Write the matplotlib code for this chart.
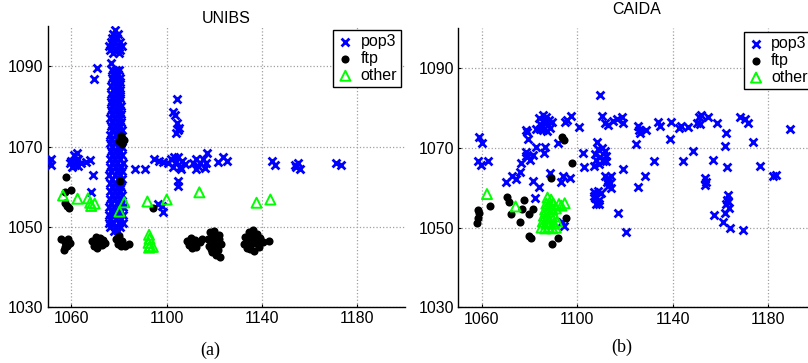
import numpy as np
import matplotlib
matplotlib.use("Agg")
import matplotlib.pyplot as plt

plt.rcParams['font.family'] = ['Liberation Sans', 'DejaVu Sans']

# ---------- data: UNIBS ----------
# dense pop3 column, (y, [x ...]) rows
unibs_pop3_column = [
    (1049, [1077.8, 1079.6]),
    (1050, [1076.4, 1078.3, 1080.5]),
    (1051, [1075.8, 1077.6, 1079.9, 1081.5]),
    (1052, [1076.2, 1078.8, 1081.0]),
    (1053, [1075.6, 1077.4, 1079.5, 1081.8]),
    (1054, [1076.5, 1078.6, 1080.7]),
    (1055, [1075.9, 1077.9, 1080.1, 1081.6]),
    (1056, [1076.8, 1079.0, 1081.2]),
    (1057, [1076.1, 1078.2, 1080.4]),
    (1058, [1077.0, 1079.3, 1081.3]),
    (1059, [1076.3, 1078.5, 1080.6]),
    (1060, [1076.9, 1079.1, 1081.0]),
    (1061, [1076.2, 1078.4, 1080.5]),
    (1062, [1077.1, 1079.4, 1081.4]),
    (1063, [1076.0, 1078.2, 1080.3]),
    (1064, [1076.8, 1079.0, 1081.1]),
    (1065, [1076.4, 1078.6, 1080.8]),
    (1066, [1077.0, 1079.3, 1081.5]),
    (1067, [1076.2, 1078.3, 1080.4]),
    (1068, [1076.9, 1079.1, 1081.2]),
    (1069, [1076.5, 1078.7, 1080.6]),
    (1070, [1077.2, 1079.4, 1081.3]),
    (1071, [1076.3, 1078.5, 1080.5]),
    (1072, [1076.8, 1079.0, 1081.0]),
    (1073, [1076.4, 1078.6, 1080.7]),
    (1074, [1077.1, 1079.2, 1081.2]),
    (1075, [1076.5, 1078.7, 1080.6]),
    (1076, [1076.9, 1079.0, 1080.9]),
    (1077, [1076.3, 1078.4, 1080.4]),
    (1078, [1077.0, 1079.1, 1080.8]),
    (1079, [1076.6, 1078.6, 1080.3]),
    (1080, [1077.2, 1079.3, 1080.7]),
    (1081, [1076.5, 1078.5, 1080.2]),
    (1082, [1077.0, 1079.0, 1080.6]),
    (1083, [1076.8, 1078.7, 1080.3]),
    (1084, [1077.3, 1079.2, 1080.5]),
    (1085, [1076.7, 1078.8, 1080.1]),
    (1086, [1077.4, 1079.4, 1080.6]),
    (1087, [1076.9, 1078.9, 1080.3]),
    (1088, [1077.5, 1079.5]),
    (1089, [1077.0, 1078.9, 1080.2]),
    (1090.7, [1076.5]),
    (1093.2, [1077.5, 1079.8]),
    (1094, [1076.3, 1078.4, 1080.5]),
    (1095, [1075.9, 1077.6, 1079.6, 1081.2]),
    (1096, [1076.5, 1078.5, 1080.6]),
    (1097, [1077.0, 1079.2]),
    (1098, [1077.6, 1079.6]),
    (1099, [1078.3]),
]

unibs_pop3 = [
    (1050.8, 1066.3), (1051.5, 1065.3), (1051.3, 1066.8),
    (1060.0, 1066.5), (1061.2, 1067.8), (1062.3, 1068.4), (1063.0, 1067.0),
    (1061.5, 1065.5), (1060.3, 1065.0), (1062.8, 1065.2), (1064.0, 1066.0),
    (1059.5, 1065.8), (1062.0, 1066.5),
    (1066.3, 1066.2), (1067.7, 1066.6), (1068.9, 1062.9), (1068.4, 1058.7),
    (1069.3, 1086.9), (1070.6, 1089.6),
    (1086.6, 1064.4), (1091.1, 1064.4), (1094.6, 1067.0), (1096.8, 1066.3),
    (1098.6, 1066.1),
    (1100.5, 1065.8), (1101.8, 1066.8), (1102.5, 1064.9), (1103.8, 1066.2),
    (1104.8, 1067.3), (1105.5, 1065.0), (1106.5, 1066.4), (1107.6, 1065.6),
    (1103.0, 1067.5), (1105.8, 1064.3),
    (1111.0, 1065.8), (1112.2, 1066.8), (1113.3, 1065.1), (1114.0, 1066.0),
    (1115.4, 1066.8), (1116.1, 1064.7), (1117.0, 1068.4), (1112.5, 1064.3),
    (1116.3, 1065.9),
    (1102.8, 1078.6), (1103.3, 1077.9), (1104.5, 1081.9), (1104.2, 1075.9),
    (1105.0, 1074.6), (1103.9, 1073.4), (1104.7, 1074.0),
    (1104.6, 1061.4), (1104.6, 1060.1),
    (1096.5, 1055.6), (1098.0, 1055.1), (1098.6, 1053.7),
    (1121.6, 1066.1), (1123.5, 1067.4), (1125.1, 1066.3),
    (1144.0, 1066.3), (1145.4, 1065.5),
    (1153.7, 1065.5), (1155.1, 1065.9), (1155.8, 1064.3), (1154.3, 1065.0),
    (1170.9, 1065.9), (1173.3, 1065.4),
]

unibs_ftp = [
    (1057.8, 1062.4), (1060.0, 1059.1), (1057.5, 1058.7), (1057.5, 1056.0),
    (1058.2, 1055.3), (1058.9, 1054.7),
    (1080.5, 1061.4), (1080.8, 1072.6), (1081.9, 1071.7), (1081.2, 1070.7),
    (1080.2, 1071.5), (1094.4, 1054.6),
    (1055.5, 1047.0), (1057.2, 1046.3), (1058.8, 1047.0), (1059.6, 1046.0),
    (1058.3, 1045.2), (1056.8, 1044.3), (1057.5, 1045.0),
    (1068.8, 1046.5), (1070.2, 1047.4), (1071.5, 1046.3), (1072.8, 1045.5),
    (1074.2, 1046.0), (1070.8, 1044.6), (1069.5, 1045.2), (1072.0, 1047.2),
    (1071.2, 1045.6), (1073.4, 1046.8),
    (1078.8, 1047.0), (1080.2, 1047.8), (1081.3, 1046.5), (1079.6, 1045.6),
    (1082.5, 1045.3), (1084.2, 1045.8), (1080.8, 1045.2), (1080.0, 1046.6),
    (1108.6, 1046.5), (1110.0, 1047.3), (1111.3, 1046.0), (1112.5, 1045.0),
    (1113.8, 1046.3), (1110.8, 1044.6), (1109.5, 1045.5), (1114.8, 1047.0),
    (1110.4, 1046.0), (1112.0, 1046.8),
    (1118.0, 1048.6), (1120.0, 1048.9), (1121.8, 1048.0), (1117.3, 1047.0),
    (1119.2, 1047.2), (1121.3, 1046.5), (1122.6, 1045.8), (1117.8, 1045.3),
    (1119.8, 1045.0), (1121.5, 1044.3), (1118.8, 1043.8), (1120.6, 1043.0),
    (1122.3, 1042.6), (1120.0, 1046.2), (1118.5, 1044.5), (1120.4, 1047.6),
    (1122.0, 1047.0), (1119.0, 1048.0), (1120.8, 1044.8),
    (1133.0, 1047.5), (1134.5, 1048.8), (1136.2, 1049.2), (1137.8, 1048.2),
    (1139.3, 1047.2), (1140.5, 1046.2), (1132.6, 1045.8), (1134.2, 1046.5),
    (1136.0, 1047.0), (1137.5, 1046.0), (1135.0, 1044.5), (1136.8, 1044.0),
    (1138.8, 1045.0), (1133.8, 1044.8), (1142.8, 1046.4), (1135.6, 1048.0),
    (1137.0, 1047.4), (1138.6, 1046.6), (1135.4, 1045.6),
]

unibs_other = [
    (1056.5, 1057.8), (1062.6, 1057.0), (1067.0, 1057.1), (1067.9, 1056.0),
    (1069.8, 1055.8), (1068.3, 1055.2),
    (1082.2, 1056.1), (1080.2, 1053.8),
    (1091.9, 1056.3), (1100.0, 1056.8), (1113.7, 1058.6), (1137.7, 1056.0),
    (1143.5, 1056.8),
    (1092.6, 1048.0), (1092.8, 1047.0), (1092.4, 1046.0), (1093.0, 1045.2),
    (1094.2, 1045.0), (1092.6, 1044.8),
]

# ---------- data: CAIDA ----------
caida_pop3 = [
    (1058.6, 1072.6), (1060.0, 1071.1), (1058.3, 1066.7), (1059.4, 1065.8),
    (1062.5, 1066.8),
    (1070.2, 1061.5), (1072.6, 1062.8), (1074.4, 1062.2), (1075.8, 1064.0),
    (1076.5, 1066.3), (1078.3, 1069.0), (1079.0, 1067.8), (1080.0, 1066.9),
    (1078.5, 1068.0), (1079.3, 1072.1), (1078.6, 1074.4), (1079.0, 1074.0),
    (1082.5, 1070.3), (1081.4, 1068.2), (1082.8, 1074.8),
    (1084.0, 1077.5), (1085.5, 1078.2), (1087.0, 1077.8), (1088.3, 1077.0),
    (1084.5, 1076.0), (1086.0, 1076.5), (1087.5, 1075.8), (1088.6, 1075.0),
    (1084.2, 1074.8), (1085.8, 1074.5), (1087.2, 1074.2), (1086.5, 1077.0),
    (1085.0, 1075.3), (1089.2, 1076.5),
    (1086.6, 1070.3), (1085.9, 1068.6),
    (1081.4, 1061.7), (1083.9, 1060.1), (1082.1, 1057.3),
    (1088.4, 1063.6), (1091.9, 1071.3), (1093.0, 1061.3), (1094.0, 1062.8),
    (1097.1, 1062.3), (1095.0, 1076.5), (1095.5, 1077.0), (1097.5, 1078.0),
    (1094.4, 1050.3), (1093.7, 1051.5),
    (1100.7, 1075.1), (1102.4, 1068.8), (1102.8, 1065.1),
    (1107.5, 1068.5), (1108.8, 1069.6), (1110.2, 1070.0), (1111.5, 1069.2),
    (1112.2, 1068.0), (1108.0, 1067.0), (1109.5, 1067.8), (1110.8, 1066.6),
    (1112.0, 1066.8), (1109.2, 1066.0), (1108.4, 1071.5), (1107.2, 1065.5),
    (1111.8, 1063.0), (1113.0, 1062.5), (1114.2, 1063.0), (1112.3, 1061.5),
    (1113.6, 1061.2), (1112.8, 1060.3), (1114.0, 1059.8),
    (1107.0, 1058.8), (1108.5, 1059.2), (1109.8, 1058.6), (1107.5, 1057.5),
    (1108.9, 1057.0), (1108.0, 1056.0), (1109.3, 1055.8), (1106.8, 1058.0),
    (1109.4, 1083.2),
    (1110.3, 1078.0), (1111.5, 1076.3), (1112.9, 1075.7), (1115.0, 1076.8),
    (1116.6, 1077.1), (1118.9, 1077.8), (1119.2, 1076.3),
    (1117.0, 1053.6), (1120.6, 1048.8), (1119.2, 1064.8),
    (1124.8, 1070.9), (1125.5, 1075.4), (1125.8, 1074.5), (1126.2, 1073.6),
    (1129.0, 1074.4), (1128.5, 1063.0), (1125.5, 1060.2),
    (1132.0, 1066.7), (1133.8, 1076.5), (1134.8, 1075.5), (1138.7, 1072.3),
    (1139.4, 1076.5), (1142.7, 1075.0), (1143.4, 1075.5), (1144.3, 1066.6),
    (1146.4, 1075.3), (1148.5, 1069.2), (1150.3, 1076.3), (1151.0, 1077.8),
    (1151.3, 1076.0), (1152.0, 1078.2), (1154.8, 1077.8),
    (1153.7, 1062.3), (1153.4, 1060.7), (1154.0, 1061.5),
    (1156.9, 1066.9), (1157.2, 1053.2), (1158.7, 1076.3),
    (1162.2, 1073.8), (1161.8, 1070.4), (1162.8, 1065.1),
    (1163.2, 1058.2), (1162.9, 1057.0), (1162.5, 1055.8), (1163.6, 1054.8),
    (1161.8, 1053.6), (1161.1, 1051.5), (1163.9, 1049.8), (1163.4, 1056.5),
    (1168.4, 1077.6), (1170.2, 1077.2), (1171.4, 1076.3), (1173.8, 1071.5),
    (1176.8, 1065.5), (1169.5, 1049.4),
    (1182.1, 1063.0), (1183.5, 1063.2), (1189.4, 1074.8),
]

caida_ftp = [
    (1058.3, 1054.4), (1058.7, 1053.6), (1058.3, 1052.3), (1058.0, 1051.1),
    (1063.2, 1055.4),
    (1070.5, 1057.6), (1071.3, 1056.3), (1072.0, 1053.3), (1076.1, 1051.3),
    (1077.5, 1056.8), (1077.0, 1054.6), (1079.6, 1053.3), (1081.4, 1054.7),
    (1079.6, 1048.0), (1080.7, 1047.3),
    (1089.1, 1062.3), (1089.4, 1045.8), (1091.9, 1047.3), (1095.4, 1052.3),
    (1093.6, 1072.6), (1094.3, 1071.9), (1097.9, 1066.1),
]

caida_other = [
    (1062.1, 1058.4), (1074.1, 1055.3),
    (1087.5, 1057.5), (1089.0, 1057.0), (1087.0, 1056.0), (1088.5, 1055.5),
    (1090.0, 1056.0), (1086.5, 1054.5), (1088.0, 1054.0), (1089.5, 1054.5),
    (1091.0, 1054.8), (1086.0, 1053.0), (1087.5, 1052.5), (1089.0, 1053.0),
    (1090.5, 1052.8), (1085.5, 1051.5), (1087.0, 1051.0), (1088.5, 1051.5),
    (1090.0, 1051.0), (1091.5, 1051.5), (1085.0, 1050.0), (1086.5, 1049.8),
    (1088.0, 1050.2), (1089.5, 1049.8), (1091.0, 1050.0),
    (1092.3, 1055.9), (1094.7, 1056.1), (1093.3, 1055.5),
]

x_ticks = [1060, 1100, 1140, 1180]
y_ticks = [1030, 1050, 1070, 1090]
series_names = ['pop3', 'ftp', 'other']


def expand_rows(rows):
    return [(x, y) for y, xs in rows for x in xs]


def draw_panel(ax, pop3, ftp, other, title, title_pad):
    p = np.array(pop3)
    f = np.array(ftp)
    o = np.array(other)
    ax.scatter(p[:, 0], p[:, 1], marker='x', s=32, c='#0000ff',
               linewidths=2.0, label=series_names[0], zorder=3)
    ax.scatter(f[:, 0], f[:, 1], marker='o', s=34, c='k',
               linewidths=0, label=series_names[1], zorder=4)
    ax.scatter(o[:, 0], o[:, 1], marker='^', s=52, facecolors='none',
               edgecolors='#00ff00', linewidths=1.4,
               label=series_names[2], zorder=5)

    ax.set_xlim(1050, 1200)
    ax.set_ylim(1030, 1100)
    ax.set_xticks(x_ticks)
    ax.set_yticks(y_ticks)
    ax.tick_params(direction='in', length=2, labelsize=11.5, pad=3)
    ax.grid(True, linestyle=':', color='#a0a0a0', linewidth=0.9)
    ax.set_axisbelow(True)
    for side in ['top', 'right']:
        ax.spines[side].set_visible(False)
    for side in ['left', 'bottom']:
        ax.spines[side].set_linewidth(1.0)
    ax.set_title(title, fontsize=11.5, pad=title_pad)

    leg = ax.legend(loc='upper right', scatterpoints=1, fontsize=11.5,
                    handlelength=1.0, handletextpad=0.45, borderpad=0.25,
                    labelspacing=0.12, borderaxespad=0.25,
                    fancybox=False, framealpha=1, edgecolor='k')
    leg.get_frame().set_linewidth(1.0)


fig = plt.figure(figsize=(8.08, 3.63), dpi=100)
ax1 = fig.add_axes([0.0588, 0.154, 0.4425, 0.774])
ax2 = fig.add_axes([0.567, 0.153, 0.4425, 0.770])

draw_panel(ax1, expand_rows(unibs_pop3_column) + unibs_pop3,
           unibs_ftp, unibs_other, 'UNIBS', 2)
draw_panel(ax2, caida_pop3, caida_ftp, caida_other, 'CAIDA', 10)

fig.text(210 / 808, 1 - 350 / 363, '(a)', ha='center', va='center',
         family=['Liberation Serif', 'DejaVu Serif'], fontsize=13)
fig.text(622 / 808, 1 - 347 / 363, '(b)', ha='center', va='center',
         family=['Liberation Serif', 'DejaVu Serif'], fontsize=13)

fig.savefig('out.png', dpi=100)
